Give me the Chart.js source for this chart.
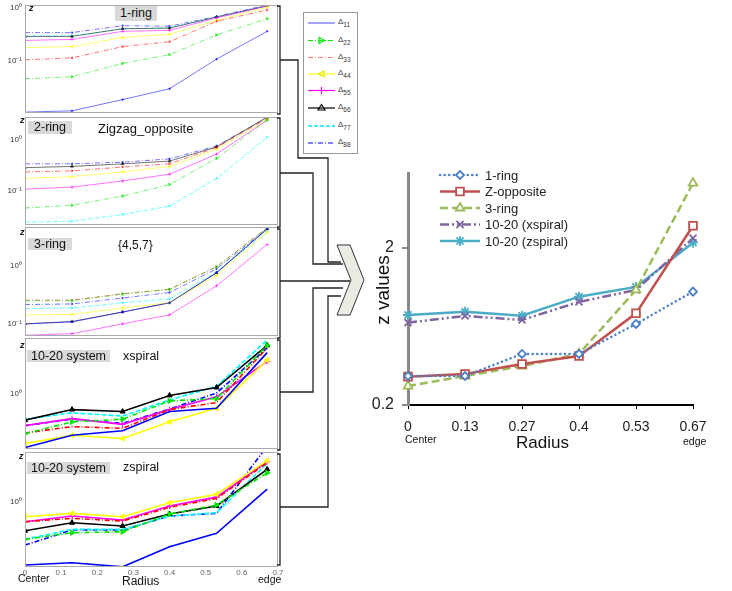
<!DOCTYPE html>
<html>
<head>
<meta charset="utf-8">
<script src="https://cdn.jsdelivr.net/npm/chart.js@4.4.1/dist/chart.umd.min.js"></script>
<style>
 body { margin:0; background:#fff; font-family:'Liberation Sans', Arial, sans-serif; }
 #page { position:relative; width:732px; height:591px; overflow:hidden; }
 canvas { position:absolute; }
 .lbl { position:absolute; white-space:nowrap; color:#111; }
 .tag { position:absolute; background:#d9d9d9; text-align:center; color:#111; }
 svg { position:absolute; left:0; top:0; }
</style>
</head>
<body>
<div id="page">
 <canvas id="p1" width="290" height="118" style="left:0;top:0"></canvas>
 <canvas id="p2" width="290" height="118" style="left:0;top:112px"></canvas>
 <canvas id="p3" width="290" height="119" style="left:0;top:222px"></canvas>
 <canvas id="p4" width="290" height="121" style="left:0;top:333px"></canvas>
 <canvas id="p5" width="290" height="144" style="left:0;top:447px"></canvas>
 <canvas id="zchart" width="372" height="300" style="left:360px;top:160px"></canvas>

 <svg width="732" height="591" viewBox="0 0 732 591">
  <g stroke="#222" stroke-width="1.3" fill="none">
   <path d="M277,6 H280 V114 H277"/><path d="M277,118 H280 V227 H277"/>
   <path d="M277,229 H280 V338 H277"/><path d="M277,340 H280 V450 H277"/>
   <path d="M277,454 H280 V565 H277"/>
   <path d="M280,60 H298 V158 H328 V262 H341"/>
   <path d="M280,173 H313 V264 H343"/>
   <path d="M280,281 H350"/>
   <path d="M280,392 H313 V288 H343"/>
   <path d="M280,507 H328 V296 H341"/>
  </g>
  <polygon points="337,245 350,245 364,280 350,315 337,315 351,280" fill="#ecebe3" stroke="#333" stroke-width="1"/>
  <rect x="303.5" y="12.5" width="54" height="141" fill="#fff" stroke="#999"/>
  <g stroke-width="1.2" fill="none">
   <line x1="308" y1="23" x2="335" y2="23" stroke="#0000ff" opacity="0.6"/>
   <line x1="308" y1="40.5" x2="335" y2="40.5" stroke="#00ee00" stroke-dasharray="5,2,1,2"/>
   <polygon points="319,37.5 324.5,40.5 319,43.5" stroke="#00ee00"/>
   <line x1="308" y1="57.5" x2="335" y2="57.5" stroke="#ff4040" stroke-dasharray="5,2,1,2" opacity="0.7"/>
   <line x1="308" y1="74" x2="335" y2="74" stroke="#ffff00"/>
   <polygon points="324,71 318.5,74 324,77" stroke="#e6e600"/>
   <line x1="308" y1="90.5" x2="335" y2="90.5" stroke="#ff00ff"/>
   <line x1="321.5" y1="87" x2="321.5" y2="94" stroke="#ff00ff"/>
   <line x1="308" y1="108" x2="335" y2="108" stroke="#000"/>
   <polygon points="321.5,104.5 325,110 318,110" stroke="#000"/>
   <line x1="308" y1="126" x2="335" y2="126" stroke="#00e5ff" stroke-width="1.6" stroke-dasharray="4,2"/>
   <line x1="308" y1="143" x2="335" y2="143" stroke="#0000ff" stroke-dasharray="5,2,1,2"/>
  </g>
  <g font-family="Liberation Sans, Arial" font-size="8" fill="#333">
   <text x="338" y="24">Δ<tspan dy="3" font-size="6.5">11</tspan></text>
   <text x="338" y="41.5">Δ<tspan dy="3" font-size="6.5">22</tspan></text>
   <text x="338" y="58.5">Δ<tspan dy="3" font-size="6.5">33</tspan></text>
   <text x="338" y="75">Δ<tspan dy="3" font-size="6.5">44</tspan></text>
   <text x="338" y="91.5">Δ<tspan dy="3" font-size="6.5">55</tspan></text>
   <text x="338" y="109">Δ<tspan dy="3" font-size="6.5">66</tspan></text>
   <text x="338" y="127">Δ<tspan dy="3" font-size="6.5">77</tspan></text>
   <text x="338" y="144">Δ<tspan dy="3" font-size="6.5">88</tspan></text>
  </g>
 </svg>

 <div class="tag" style="left:115px;top:6px;width:42px;height:15px;line-height:15px;font-size:12.5px">1-ring</div>
 <div class="tag" style="left:28px;top:121px;width:44px;height:13px;line-height:13px;font-size:12.5px">2-ring</div>
 <div class="lbl" style="left:98px;top:121px;font-size:13px;line-height:16px">Zigzag_opposite</div>
 <div class="tag" style="left:28px;top:238px;width:44px;height:12px;line-height:12px;font-size:12.5px">3-ring</div>
 <div class="lbl" style="left:118px;top:238px;font-size:12px;line-height:14px">{4,5,7}</div>
 <div class="tag" style="left:27px;top:350px;width:83px;height:12px;line-height:12px;font-size:12.5px">10-20 system</div>
 <div class="lbl" style="left:123px;top:349px;font-size:12.5px;line-height:15px">xspiral</div>
 <div class="tag" style="left:27px;top:462px;width:83px;height:12px;line-height:12px;font-size:12.5px">10-20 system</div>
 <div class="lbl" style="left:123px;top:460px;font-size:12.5px;line-height:15px">zspiral</div>

 <div class="lbl" style="left:29px;top:3px;font-size:9px;font-style:italic;font-weight:bold">z</div>
 <div class="lbl" style="left:20px;top:115px;font-size:9px;font-style:italic;font-weight:bold">z</div>
 <div class="lbl" style="left:20px;top:227px;font-size:9px;font-style:italic;font-weight:bold">z</div>
 <div class="lbl" style="left:20px;top:340px;font-size:9px;font-style:italic;font-weight:bold">z</div>
 <div class="lbl" style="left:19px;top:451px;font-size:9px;font-style:italic;font-weight:bold">z</div>

 <div class="lbl" style="left:18px;top:572px;font-size:10.5px;line-height:12px">Center</div>
 <div class="lbl" style="left:122px;top:574px;font-size:12px;line-height:15px">Radius</div>
 <div class="lbl" style="left:258px;top:573px;font-size:10.5px;line-height:12px">edge</div>

 <div class="lbl" style="left:405px;top:433px;font-size:10.5px;line-height:12px">Center</div>
 <div class="lbl" style="left:683px;top:435px;font-size:10.5px;line-height:12px">edge</div>
 <div class="lbl" style="left:516px;top:433px;font-size:17px;line-height:20px">Radius</div>
 <div class="lbl" style="left:345px;top:279px;width:76px;text-align:center;font-size:19px;line-height:22px;transform:rotate(-90deg)">z values</div>
</div>

<script>
// radius positions shared by all panels
const radius = [0, 0.13, 0.27, 0.4, 0.53, 0.67];
const deltaLabels = ['Δ11', 'Δ22', 'Δ33', 'Δ44', 'Δ55', 'Δ66', 'Δ77', 'Δ88'];

// left panels, one row per Δ series (Δ11 .. Δ88)
const oneRing = [
 [0.0104, 0.011, 0.018, 0.029, 0.106, 0.36],
 [0.045, 0.049, 0.088, 0.129, 0.307, 0.625],
 [0.103, 0.112, 0.184, 0.228, 0.557, 0.918],
 [0.176, 0.184, 0.275, 0.316, 0.582, 1.03],
 [0.241, 0.252, 0.359, 0.375, 0.645, 1.09],
 [0.287, 0.287, 0.403, 0.414, 0.672, 1.1],
 [0.295, 0.295, 0.40, 0.42, 0.67, 1.1],
 [0.34, 0.34, 0.46, 0.45, 0.69, 1.14]
];
const zigzagOpposite = [
 [null, null, null, null, null, null],
 [0.047, 0.053, 0.08, 0.134, 0.43, 2.38],
 [0.235, 0.246, 0.292, 0.337, 0.697, 2.56],
 [0.176, 0.19, 0.235, 0.30, 0.648, 2.49],
 [0.109, 0.119, 0.157, 0.212, 0.52, 2.38],
 [0.284, 0.30, 0.337, 0.38, 0.716, 2.72],
 [0.025, 0.026, 0.035, 0.051, 0.176, 1.1],
 [0.337, 0.337, 0.363, 0.42, 0.748, 2.63]
];
const threeRing = [
 [0.10, 0.108, 0.16, 0.23, 0.76, 4.3],
 [0.25, 0.25, 0.325, 0.39, 0.95, 4.4],
 [0.255, 0.255, 0.329, 0.394, 0.96, 4.47],
 [0.143, 0.145, 0.188, 0.23, 0.68, 3.74],
 [0.064, 0.068, 0.10, 0.143, 0.45, 2.3],
 [0.10, 0.11, 0.16, 0.23, 0.75, 4.25],
 [0.183, 0.188, 0.23, 0.268, 0.776, 3.83],
 [0.215, 0.22, 0.278, 0.346, 0.88, 4.25]
];
const xspiral = [
 [0.31, 0.404, 0.446, 0.678, 0.726, 2.43],
 [0.418, 0.541, 0.573, 0.853, 0.895, 2.85],
 [0.424, 0.488, 0.47, 0.706, 0.823, 2.7],
 [0.337, 0.404, 0.377, 0.541, 0.726, 2.07],
 [0.498, 0.58, 0.512, 0.706, 0.93, 2.01],
 [0.561, 0.706, 0.677, 0.96, 1.14, 2.85],
 [0.573, 0.658, 0.614, 0.87, 1.17, 3.2],
 [0.498, 0.573, 0.523, 0.715, 1.01, 2.7]
];
const zspiral = [
 [0.266, 0.279, 0.256, 0.39, 0.516, 1.3],
 [0.455, 0.523, 0.533, 0.773, 0.933, 1.83],
 [0.658, 0.706, 0.667, 0.889, 1.07, 2.26],
 [0.731, 0.784, 0.731, 0.979, 1.17, 2.36],
 [0.658, 0.741, 0.682, 0.914, 1.1, 2.31],
 [0.545, 0.644, 0.601, 0.773, 0.914, 1.97],
 [0.455, 0.561, 0.561, 0.741, 0.794, 2.23],
 [0.404, 0.553, 0.553, 0.741, 0.784, 3.2]
];

// right chart
const zLabels = ['0', '0.13', '0.27', '0.4', '0.53', '0.67'];
const zNames = ['1-ring', 'Z-opposite', '3-ring', '10-20 (xspiral)', '10-20 (zspiral)'];
const zRing1 = [0.306, 0.306, 0.423, 0.423, 0.656, 1.054];
const zOpposite = [0.303, 0.315, 0.365, 0.41, 0.767, 2.77];
const zRing3 = [0.264, 0.306, 0.354, 0.423, 1.08, 5.17];
const zXspiral = [0.669, 0.738, 0.696, 0.906, 1.08, 2.31];
const zZspiral = [0.748, 0.785, 0.741, 0.979, 1.13, 2.16];
const zTicks = [0.2, 2];

// styles
const deltaColors = ['#0000ff', '#00e600', '#ff0000', '#ffff00', '#ff00ff', '#000000', '#00ffff', '#0000ff'];
const deltaDash = [[], [5, 2, 1, 2], [5, 2, 1, 2], [], [], [], [5, 2], [5, 2, 1, 2]];
const deltaMark = [null, 'triangle', null, 'triangle', 'cross', 'triangle', null, null];
const deltaRot = [0, 90, 0, -90, 0, 0, 0, 0];

const font = "'Liberation Sans', Arial, sans-serif";

function fade(hex, a) {
 const n = parseInt(hex.slice(1), 16);
 return 'rgba(' + (n >> 16) + ',' + ((n >> 8) & 255) + ',' + (n & 255) + ',' + a + ')';
}

const framePlugin = {
 id: 'frame',
 afterDraw(chart) {
  const { ctx, chartArea: a } = chart;
  ctx.save();
  ctx.strokeStyle = '#aaa';
  ctx.lineWidth = 1;
  ctx.strokeRect(a.left + 0.5, a.top + 0.5, a.width - 1, a.height - 1);
  ctx.restore();
 }
};

function panel(id, rows, yMin, yMax, strong, showX) {
 const datasets = rows.map((vals, i) => ({
  label: deltaLabels[i],
  data: vals.map((v, j) => ({ x: radius[j], y: v })),
  borderColor: strong ? deltaColors[i] : fade(deltaColors[i], 0.55),
  backgroundColor: strong ? deltaColors[i] : fade(deltaColors[i], 0.55),
  borderWidth: strong ? 1.6 : 1,
  borderDash: deltaDash[i],
  pointStyle: deltaMark[i] || 'circle',
  pointRadius: deltaMark[i] ? (strong ? 3 : 1.6) : (strong ? 0 : 0.8),
  pointRotation: deltaRot[i],
  pointBorderWidth: 1
 }));
 new Chart(document.getElementById(id), {
  type: 'line',
  data: { datasets },
  options: {
   responsive: false,
   animation: false,
   layout: { padding: { left: 0, right: 12, top: 5, bottom: showX ? 0 : 2 } },
   plugins: { legend: { display: false }, tooltip: { enabled: false } },
   scales: {
    x: {
     type: 'linear', min: 0, max: 0.7,
     display: !!showX,
     grid: { drawOnChartArea: false, drawTicks: false },
     border: { display: false },
     ticks: {
      stepSize: 0.1, padding: 1, color: '#666', font: { size: 8, family: font },
      callback: v => v === 0 ? '0' : (+v).toFixed(1)
     },
     afterFit: s => { if (showX) { s.height = 24; } s.paddingLeft = 0; s.paddingRight = 0; }
    },
    y: {
     type: 'logarithmic', min: yMin, max: yMax,
     grid: { display: false, drawTicks: false },
     border: { display: false },
     ticks: {
      padding: 3, color: '#333', font: { size: 8, family: font },
      callback: v => v === 1 ? '10⁰' : '10⁻¹'
     },
     afterBuildTicks: s => { s.ticks = [1, 0.1].filter(v => v >= yMin && v <= yMax).map(v => ({ value: v })); },
     afterFit: s => { s.width = 25; s.paddingTop = 0; s.paddingBottom = 0; }
    }
   }
  },
  plugins: [framePlugin]
 });
}

panel('p1', oneRing, 0.01, 1.14, false, false);
panel('p2', zigzagOpposite, 0.022, 2.72, false, false);
panel('p3', threeRing, 0.062, 4.6, false, false);
panel('p4', xspiral, 0.308, 3.34, true, false);
panel('p5', zspiral, 0.255, 2.83, true, true);

// legend drawn inside the plot of the right chart
const insideLegend = {
 id: 'insideLegend',
 afterDraw(chart) {
  const ctx = chart.ctx;
  chart.data.datasets.forEach((ds, i) => {
   const y = 15 + i * 16.5;
   ctx.save();
   ctx.strokeStyle = ds.borderColor;
   ctx.lineWidth = ds.borderWidth;
   ctx.lineCap = ds.borderCapStyle || 'butt';
   ctx.setLineDash(ds.borderDash || []);
   ctx.beginPath();
   ctx.moveTo(80, y);
   ctx.lineTo(120, y);
   ctx.stroke();
   ctx.setLineDash([]);
   ctx.lineCap = 'butt';
   ctx.fillStyle = '#fff';
   ctx.lineWidth = ds.pointBorderWidth;
   if (Chart.helpers && Chart.helpers.drawPoint) {
    Chart.helpers.drawPoint(ctx, { pointStyle: ds.pointStyle, radius: ds.pointRadius, rotation: 0, borderWidth: ds.pointBorderWidth }, 100, y);
   }
   ctx.fillStyle = '#222';
   ctx.font = '13px ' + font;
   ctx.textBaseline = 'middle';
   ctx.fillText(ds.label, 125, y + 1);
   ctx.restore();
  });
 }
};

function zSet(i, vals, color, dash, mark, r) {
 return {
  label: zNames[i], data: vals,
  borderColor: color, pointBorderColor: color, pointBackgroundColor: '#fff',
  borderWidth: 2.5, borderDash: dash,
  pointStyle: mark, pointRadius: r, pointBorderWidth: 1.8
 };
}

const zSets = [
 zSet(0, zRing1, '#4a7fc6', [0.1, 4.5], 'rectRot', 4),
 zSet(1, zOpposite, '#c0504d', [], 'rect', 5.5),
 zSet(2, zRing3, '#9bbb59', [8, 4], 'triangle', 5),
 zSet(3, zXspiral, '#8064a2', [9, 3, 2, 3, 2, 3], 'crossRot', 5),
 zSet(4, zZspiral, '#4bacc6', [], 'star', 5)
];
zSets[0].borderCapStyle = 'round';

new Chart(document.getElementById('zchart'), {
 type: 'line',
 data: { labels: zLabels, datasets: zSets },
 options: {
  responsive: false,
  animation: false,
  layout: { padding: { left: 0, right: 39, top: 13, bottom: 0 } },
  plugins: { legend: { display: false }, tooltip: { enabled: false } },
  scales: {
   x: {
    type: 'category', offset: false,
    grid: { drawOnChartArea: false, tickLength: 4, color: '#000' },
    border: { color: '#000', width: 2 },
    ticks: { padding: 10, color: '#222', font: { size: 14, family: font } },
    afterFit: s => { s.height = 55; s.paddingLeft = 0; s.paddingRight = 0; }
   },
   y: {
    type: 'logarithmic', min: 0.2, max: 6,
    grid: { drawOnChartArea: false, tickLength: 6, color: '#888', lineWidth: 2 },
    border: { color: '#888', width: 3 },
    ticks: { padding: 8, color: '#222', font: { size: 16, family: font }, callback: v => String(v) },
    afterBuildTicks: s => { s.ticks = zTicks.map(v => ({ value: v })); },
    afterFit: s => { s.width = 48; s.paddingTop = 0; s.paddingBottom = 0; }
   }
  }
 },
 plugins: [insideLegend]
});
</script>
</body>
</html>
